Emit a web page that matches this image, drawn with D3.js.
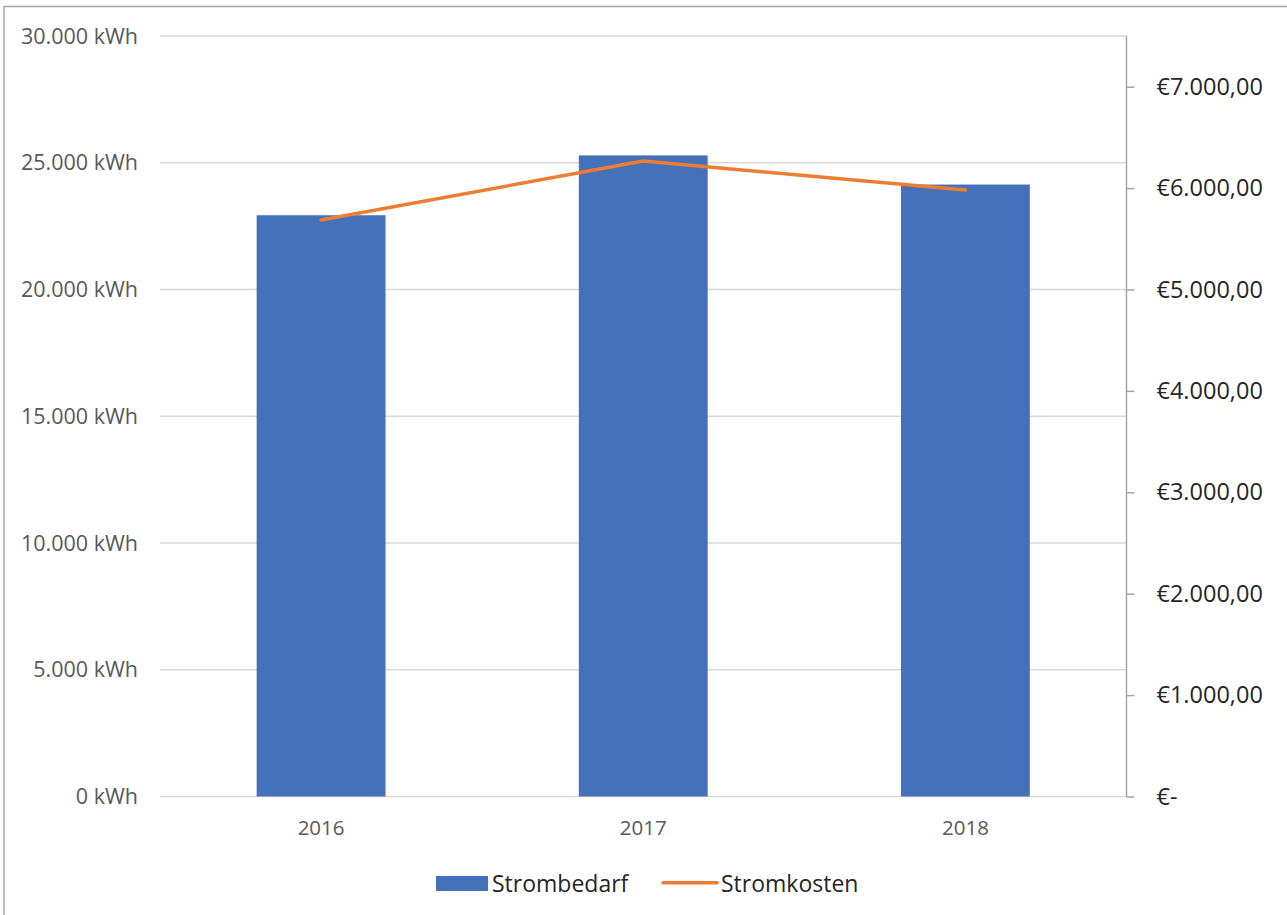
<!DOCTYPE html>
<html><head><meta charset="utf-8">
<script src="https://cdn.jsdelivr.net/npm/d3@7"></script>
<style>body{margin:0;background:#fff}svg{display:block}text{font-family:"Open Sans",sans-serif}</style>
</head><body><svg id="c" width="1287" height="915"></svg>
<script>
const categories = ["2016","2017","2018"];
const strombedarf = [22930, 25290, 24140];
const stromkosten = [5685, 6267, 5981];
const leftTicks = [0,5000,10000,15000,20000,25000,30000];
const rightTicks = [0,1000,2000,3000,4000,5000,6000,7000];
const seriesNames = ["Strombedarf","Stromkosten"];
const colors = ["#4571BA","#ED7D31"];

const svg = d3.select("#c");
svg.append("rect").attr("x",4).attr("y",6.5).attr("width",1300).attr("height",1000)
  .attr("fill","none").attr("stroke","#a6a6a6").attr("stroke-width",1.5);

const pL=160, pR=1126.5, pT=36, pB=796.5;
const x = d3.scaleBand().domain(categories).range([pL,pR]).padding(0);
const yL = d3.scaleLinear().domain([0,30000]).range([pB,pT]);
const yR = d3.scaleLinear().domain([0,7500]).range([pB,pT]);
const fmtL = v => d3.format(",")(v).replace(/,/g,".") + " kWh";
const fmtR = v => v===0 ? "€-" : "€" + d3.format(",.2f")(v).replace(/,/g,"#").replace(".",",").replace(/#/g,".");

// gridlines
svg.append("g").selectAll("line").data(leftTicks).join("line")
  .attr("x1",pL).attr("x2",pR).attr("y1",d=>yL(d)).attr("y2",d=>yL(d))
  .attr("stroke","#d9d9d9").attr("stroke-width",1.5);

// left labels
svg.append("g").selectAll("text").data(leftTicks).join("text")
  .attr("x",138).attr("y",d=>yL(d)).attr("dy","0.35em").attr("text-anchor","end")
  .attr("fill","#595959").attr("font-size",21.5).text(fmtL);

// bars
const bw = x.step()*0.4;
svg.append("g").selectAll("rect").data(categories).join("rect")
  .attr("x",(d)=>x(d)+x.bandwidth()/2-bw/2).attr("width",bw)
  .attr("y",(d,i)=>yL(strombedarf[i])).attr("height",(d,i)=>yL(0)-yL(strombedarf[i]))
  .attr("fill",colors[0]);

// line
const line = d3.line().x((d,i)=>x(categories[i])+x.bandwidth()/2).y(d=>yR(d));
svg.append("path").datum(stromkosten).attr("d",line).attr("fill","none")
  .attr("stroke",colors[1]).attr("stroke-width",3.5).attr("stroke-linecap","round").attr("stroke-linejoin","round");

// right axis
const ax = svg.append("g").attr("transform",`translate(${pR},0)`)
  .call(d3.axisRight(yR).tickValues(rightTicks).tickSize(8).tickSizeOuter(0).tickFormat(fmtR).tickPadding(22));
ax.select(".domain").attr("stroke","#a6a6a6").attr("stroke-width",1.5).attr("d",`M0,${pT}V${pB}`);
ax.selectAll(".tick line").attr("stroke","#a6a6a6").attr("stroke-width",1.5);
ax.selectAll(".tick text").attr("fill","#262626").attr("font-size",23.5).attr("font-family","Open Sans, sans-serif");

// category labels
svg.append("g").selectAll("text").data(categories).join("text")
  .attr("x",d=>x(d)+x.bandwidth()/2).attr("y",828).attr("dy","0.35em").attr("text-anchor","middle")
  .attr("fill","#595959").attr("font-size",20.5).text(d=>d);

// legend
const lg = svg.append("g");
lg.append("rect").attr("x",436).attr("y",876).attr("width",52).attr("height",15).attr("fill",colors[0]);
lg.append("text").attr("x",492).attr("y",883.5).attr("dy","0.35em").attr("fill","#262626").attr("font-size",23).text(seriesNames[0]);
lg.append("line").attr("x1",663).attr("x2",717).attr("y1",882.7).attr("y2",882.7).attr("stroke",colors[1]).attr("stroke-width",3.5).attr("stroke-linecap","round");
lg.append("text").attr("x",721).attr("y",883.5).attr("dy","0.35em").attr("fill","#262626").attr("font-size",23).text(seriesNames[1]);
</script></body></html>
